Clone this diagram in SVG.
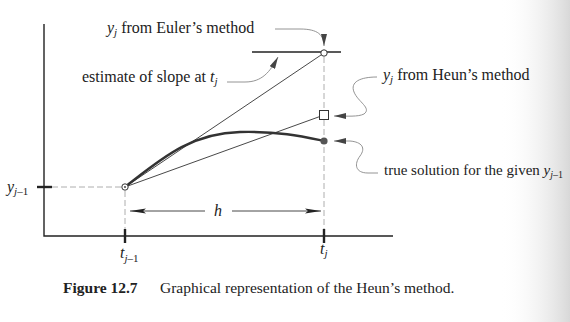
<svg xmlns="http://www.w3.org/2000/svg" width="570" height="322" viewBox="0 0 570 322">
<defs>
<marker id="ah" viewBox="0 0 12 6" refX="12" refY="3" markerWidth="12" markerHeight="6" markerUnits="userSpaceOnUse" orient="auto">
<path d="M0,0 L12,3 L0,6 Z" fill="#444"/>
</marker>
<marker id="lh" viewBox="0 0 16 6" refX="16" refY="3" markerWidth="16" markerHeight="6" markerUnits="userSpaceOnUse" orient="auto">
<path d="M0,0.5 L16,3 L0,5.5 L3,3 Z" fill="#222"/>
</marker>
<linearGradient id="pg" x1="0" y1="0" x2="1" y2="0">
<stop offset="0" stop-color="#fff" stop-opacity="0"/>
<stop offset="1" stop-color="#d8d8d8"/>
</linearGradient>
</defs>
<style>
text{font-family:"Liberation Serif","Times New Roman",serif;font-size:16px;fill:#222}
.it{font-style:italic}
.sub{font-size:11px}
.cap{font-size:15.5px}
text.ts{font-size:15px}
.ts .sub{font-size:10px}
.ax{stroke:#222;stroke-width:1.4;fill:none}
.tk{stroke:#222;stroke-width:2.4;fill:none}
.ln{stroke:#333;stroke-width:0.9;fill:none}
.dash{stroke:#999;stroke-width:0.8;stroke-dasharray:6 3;fill:none}
.lead{stroke:#888;stroke-width:0.9;fill:none}
</style>
<rect width="570" height="322" fill="#fff"/>
<rect x="500" y="0" width="70" height="322" fill="url(#pg)"/>

<g id="axes">
<path class="ax" d="M44,24 V236 H393"/>
<path class="tk" d="M37,187 H52"/>
<path class="tk" d="M125,229 V243"/>
<path class="tk" d="M324,229 V243"/>
</g>

<g id="guides">
<path class="dash" d="M52,187 H121"/>
<path class="dash" d="M125,191 V229"/>
<path class="dash" d="M324,57 V229"/>
</g>

<g id="lines">
<path class="ln" d="M125,187 L324,53"/>
<path class="ln" d="M125,187 L324,115"/>
<path d="M252,52 H341" stroke="#222" stroke-width="1.3" fill="none"/>
<path d="M125,187 C160,160 190,133 240,132 C280,131 305,137 324,141" stroke="#333" stroke-width="2.4" fill="none"/>
</g>

<g id="connectors">
<path class="lead" d="M275,29 H300 C318,29 324,35 324,46" marker-end="url(#ah)"/>
<path class="lead" d="M227,82 H245 C262,82 270,72 278,57" marker-end="url(#ah)"/>
<path class="lead" d="M377,77 C360,77 350,82 354,92 C358,102 372,108 364,114 C358,117 348,116 334,116" marker-end="url(#ah)"/>
<path class="lead" d="M378,173 H368 C355,173 354,164 360,156 C366,148 362,142 350,141 L334,141" marker-end="url(#ah)"/>
<path class="ln" d="M205,211 H130" marker-end="url(#lh)"/>
<path class="ln" d="M232,211 H321" marker-end="url(#lh)"/>
</g>

<g id="start-point">
<circle cx="125" cy="187" r="3.2" fill="#fff" stroke="#333" stroke-width="1"/>
<circle cx="125" cy="187" r="0.9" fill="#333"/>
</g>
<g id="euler-point">
<circle cx="324" cy="53" r="3.2" fill="#fff" stroke="#333" stroke-width="1"/>
</g>
<g id="heun-point">
<rect x="319.5" y="110.5" width="9" height="9" fill="#fff" stroke="#333" stroke-width="1"/>
</g>
<g id="true-point">
<circle cx="324" cy="141" r="3.6" fill="#555"/>
</g>

<g id="labels">
<text x="107" y="33"><tspan class="it">y</tspan><tspan class="it sub" dy="3">j</tspan><tspan dy="-3"> from Euler’s method</tspan></text>
<text x="82" y="82">estimate of slope at <tspan class="it">t</tspan><tspan class="it sub" dy="3">j</tspan></text>
<text x="383" y="80"><tspan class="it">y</tspan><tspan class="it sub" dy="3">j</tspan><tspan dy="-3"> from Heun’s method</tspan></text>
<text x="384" y="175" class="ts">true solution for the given <tspan class="it">y</tspan><tspan class="sub" dy="3"><tspan class="it">j</tspan>–1</tspan></text>
<text x="7" y="192"><tspan class="it">y</tspan><tspan class="sub" dy="3"><tspan class="it">j</tspan>–1</tspan></text>
<text x="214" y="216" class="it">h</text>
<text x="120" y="258"><tspan class="it">t</tspan><tspan class="sub" dy="4"><tspan class="it">j</tspan>–1</tspan></text>
<text x="320" y="254"><tspan class="it">t</tspan><tspan class="it sub" dy="3">j</tspan></text>
</g>

<g id="caption">
<text x="63" y="293" class="cap"><tspan font-weight="bold">Figure 12.7</tspan><tspan x="160">Graphical representation of the Heun’s method.</tspan></text>
</g>
</svg>
